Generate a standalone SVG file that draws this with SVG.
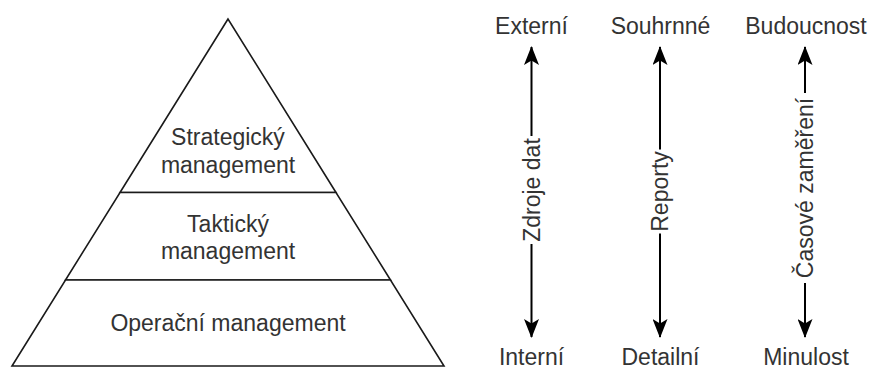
<svg xmlns="http://www.w3.org/2000/svg" width="869" height="369" viewBox="0 0 869 369">
  <style>
    .tier { fill: #ffffff; stroke: #1a1a1a; stroke-width: 1.6; stroke-linejoin: miter; }
    .lbl { font-family: "Liberation Sans", Arial, sans-serif; font-size: 23px; fill: #333333; text-anchor: middle; }
    .axis { stroke: #000000; stroke-width: 2; fill: none; marker-start: url(#head); marker-end: url(#head); }
    .bg { fill: #ffffff; }
  </style>
  <defs>
    <marker id="head" markerUnits="userSpaceOnUse" viewBox="0 0 19 15" refX="18" refY="7.5" markerWidth="19" markerHeight="15" orient="auto-start-reverse">
      <path d="M19,7.5 L0,0 L4.5,7.5 L0,15 Z" fill="#000000"/>
    </marker>
  </defs>

  <rect width="869" height="369" fill="#ffffff"/>

  <!-- management pyramid -->
  <g id="strategic">
    <polygon class="tier" points="228,19 120,192.5 336,192.5"/>
    <text class="lbl" x="228" y="145">Strategický</text>
    <text class="lbl" x="228" y="172.5">management</text>
  </g>
  <g id="tactical">
    <polygon class="tier" points="120,192.5 336,192.5 390.5,280 65.5,280"/>
    <text class="lbl" x="228" y="231.5">Taktický</text>
    <text class="lbl" x="228" y="258.5">management</text>
  </g>
  <g id="operational">
    <polygon class="tier" points="65.5,280 390.5,280 444,366 12,366"/>
    <text class="lbl" x="228" y="330.5">Operační management</text>
  </g>

  <!-- axis end labels -->
  <g id="externi"><text class="lbl" x="531.5" y="34">Externí</text></g>
  <g id="interni"><text class="lbl" x="531.5" y="365">Interní</text></g>
  <g id="souhrnne"><text class="lbl" x="660.5" y="34">Souhrnné</text></g>
  <g id="detailni"><text class="lbl" x="660.5" y="365">Detailní</text></g>
  <g id="budoucnost"><text class="lbl" x="806" y="34">Budoucnost</text></g>
  <g id="minulost"><text class="lbl" x="806" y="365">Minulost</text></g>

  <!-- double-headed axes with vertical labels -->
  <g id="connectors">
    <g id="axis-zdroje">
      <line class="axis" x1="531.5" y1="47" x2="531.5" y2="337"/>
      <g transform="translate(531.5,190) rotate(-90)">
        <rect class="bg" x="-54" y="-9" width="108" height="18"/>
        <text class="lbl" x="0" y="8">Zdroje dat</text>
      </g>
    </g>
    <g id="axis-reporty">
      <line class="axis" x1="660" y1="47" x2="660" y2="337"/>
      <g transform="translate(660,191.5) rotate(-90)">
        <rect class="bg" x="-42" y="-9" width="84" height="18"/>
        <text class="lbl" x="0" y="8">Reporty</text>
      </g>
    </g>
    <g id="axis-cas">
      <line class="axis" x1="805" y1="47" x2="805" y2="337"/>
      <g transform="translate(805,188) rotate(-90)">
        <rect class="bg" x="-95" y="-9" width="190" height="18"/>
        <text class="lbl" x="0" y="8">Časové zaměření</text>
      </g>
    </g>
  </g>
</svg>
